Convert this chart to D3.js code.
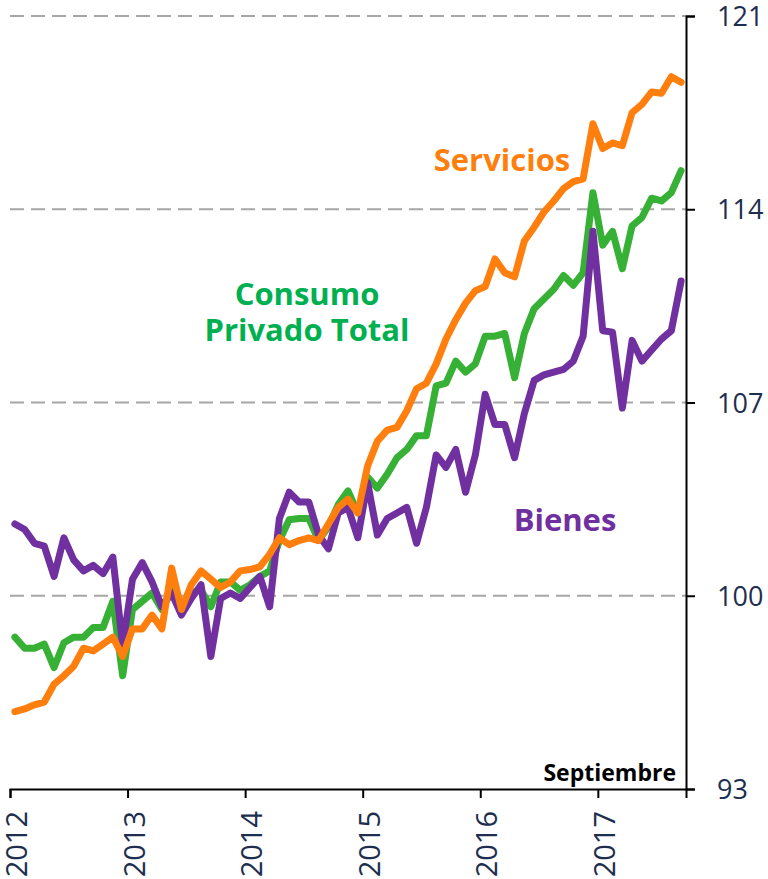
<!DOCTYPE html>
<html>
<head>
<meta charset="utf-8">
<script src="https://cdn.jsdelivr.net/npm/d3@7"></script>
<style>
  html, body { margin: 0; padding: 0; background: #fff; }
  svg { display: block; }
  .tick-label { font-family: "Open Sans", sans-serif; fill: #1d2e4e; }
  .series-label { font-family: "Open Sans", sans-serif; font-weight: bold; }
</style>
</head>
<body>
<div class="js-chart"></div>
<script>
const WIDTH = 768;
const HEIGHT = 879;

// monthly index, Jan 2012 .. Sep 2017
const START_YEAR = 2012;
const MONTH_COUNT = 69;
const yearLabels = ['2012', '2013', '2014', '2015', '2016', '2017'];
const yTicks = [93, 100, 107, 114, 121];

const consumoTotal = [
    98.5, 98.1, 98.1, 98.25, 97.4, 98.3, 98.5, 98.5, 98.85, 98.85, 99.8, 97.1,
    99.5, 99.8, 100.1, 99.5, 100.2, 99.5, 100.1, 100.2, 99.6, 100.5, 100.5, 100.2,
    100.4, 100.7, 100.9, 102.0, 102.75, 102.8, 102.8, 102.0, 102.5, 103.3, 103.8, 103.0,
    104.3, 103.9, 104.4, 105.0, 105.3, 105.8, 105.8, 107.6, 107.7, 108.5, 108.1, 108.4,
    109.4, 109.4, 109.5, 107.9, 109.5, 110.4, 110.75, 111.1, 111.6, 111.25, 111.7, 114.6,
    112.7, 113.2, 111.85, 113.4, 113.7, 114.4, 114.3, 114.6, 115.4
];

const bienes = [
    102.6, 102.4, 101.9, 101.8, 100.7, 102.1, 101.3, 100.9, 101.1, 100.8, 101.4, 98.2,
    100.6, 101.2, 100.5, 99.6, 100.1, 99.3, 99.9, 100.4, 97.8, 99.9, 100.1, 99.9,
    100.3, 100.7, 99.6, 102.8, 103.75, 103.4, 103.4, 102.2, 101.7, 103.0, 103.2, 102.1,
    104.1, 102.2, 102.8, 103.0, 103.2, 101.9, 103.2, 105.1, 104.65, 105.3, 103.75, 105.1,
    107.3, 106.2, 106.2, 105.0, 106.6, 107.8, 108.0, 108.1, 108.2, 108.5, 109.4, 113.2,
    109.6, 109.55, 106.8, 109.25, 108.5, 108.9, 109.3, 109.6, 111.4
];

const servicios = [
    95.8, 95.9, 96.05, 96.15, 96.8, 97.1, 97.45, 98.1, 98.0, 98.25, 98.5, 97.8,
    98.8, 98.8, 99.3, 98.8, 101.0, 99.5, 100.4, 100.9, 100.6, 100.3, 100.5, 100.9,
    100.95, 101.05, 101.5, 102.1, 101.85, 102.0, 102.1, 102.0, 102.6, 103.2, 103.5, 103.0,
    104.7, 105.6, 106.0, 106.1, 106.7, 107.5, 107.7, 108.4, 109.3, 110.0, 110.6, 111.05,
    111.2, 112.2, 111.7, 111.55, 112.85, 113.35, 113.9, 114.3, 114.75, 115.0, 115.1, 117.1,
    116.2, 116.4, 116.3, 117.5, 117.8, 118.25, 118.2, 118.8, 118.6
];

// drawn bottom to top
const series = [
    { name: 'Consumo Privado Total', values: consumoTotal, color: '#36b035' },
    { name: 'Bienes', values: bienes, color: '#7030a0' },
    { name: 'Servicios', values: servicios, color: '#ff7f0e' }
];

const svg = d3.select('.js-chart').append('svg')
    .attr('width', WIDTH)
    .attr('height', HEIGHT);

const x = d3.scaleLinear().domain([0, MONTH_COUNT]).range([10, 686]);
const y = d3.scaleLinear().domain([93, 121]).range([789, 16]);

// dashed grid lines
svg.append('g')
    .selectAll('line')
    .data(yTicks.filter((d) => d > 93))
    .enter()
    .append('line')
    .attr('x1', x(0))
    .attr('x2', x(MONTH_COUNT))
    .attr('y1', (d) => y(d))
    .attr('y2', (d) => y(d))
    .attr('stroke', '#a6a6a6')
    .attr('stroke-width', 2)
    .attr('stroke-dasharray', '14,7');

// series lines, month points sit in the middle of each month
const line = d3.line()
    .x((d, i) => x(i + 0.5))
    .y((d) => y(d));

svg.append('g')
    .selectAll('path')
    .data(series)
    .enter()
    .append('path')
    .attr('d', (d) => line(d.values))
    .attr('fill', 'none')
    .attr('stroke', (d) => d.color)
    .attr('stroke-width', 7)
    .attr('stroke-linejoin', 'round')
    .attr('stroke-linecap', 'round');

// right axis
const yAxis = svg.append('g')
    .attr('transform', `translate(${x(MONTH_COUNT)},0)`)
    .call(d3.axisRight(y).tickValues(yTicks).tickSize(9).tickPadding(22).tickFormat(d3.format('d')));

// bottom axis with rotated year labels
const xAxis = svg.append('g')
    .attr('transform', `translate(0,${y(93)})`)
    .call(d3.axisBottom(x)
        .tickValues(d3.range(yearLabels.length).map((d) => d * 12))
        .tickSize(9)
        .tickFormat((d, i) => yearLabels[i]));

[yAxis, xAxis].forEach((g) => {
    g.select('.domain').attr('stroke', '#000').attr('stroke-width', 2);
    g.selectAll('.tick line').attr('stroke', '#000').attr('stroke-width', 2);
    g.selectAll('.tick text').attr('class', 'tick-label').attr('fill', '#1d2e4e');
});

yAxis.selectAll('.tick text')
    .style('font-size', '27px')
    .attr('dy', '0.36em');

xAxis.selectAll('.tick text')
    .style('font-size', '29px')
    .attr('text-anchor', 'end')
    .attr('x', -22)
    .attr('y', 0)
    .attr('dy', '0.36em')
    .attr('dx', 0)
    .attr('transform', 'translate(6,0) rotate(-90)');

// series labels
svg.append('text')
    .attr('class', 'series-label')
    .attr('x', 502)
    .attr('y', 171)
    .attr('text-anchor', 'middle')
    .style('font-size', '31px')
    .attr('fill', '#ff7f0e')
    .text('Servicios');

const consumoLabel = svg.append('text')
    .attr('class', 'series-label')
    .attr('text-anchor', 'middle')
    .style('font-size', '31px')
    .attr('fill', '#00b050');
consumoLabel.append('tspan').attr('x', 307).attr('y', 305).text('Consumo');
consumoLabel.append('tspan').attr('x', 307).attr('y', 341).text('Privado Total');

svg.append('text')
    .attr('class', 'series-label')
    .attr('x', 565)
    .attr('y', 531)
    .attr('text-anchor', 'middle')
    .style('font-size', '31px')
    .attr('fill', '#7030a0')
    .text('Bienes');

svg.append('text')
    .attr('class', 'series-label')
    .attr('x', 676)
    .attr('y', 781)
    .attr('text-anchor', 'end')
    .style('font-size', '23px')
    .attr('fill', '#000')
    .text('Septiembre');
</script>
</body>
</html>
